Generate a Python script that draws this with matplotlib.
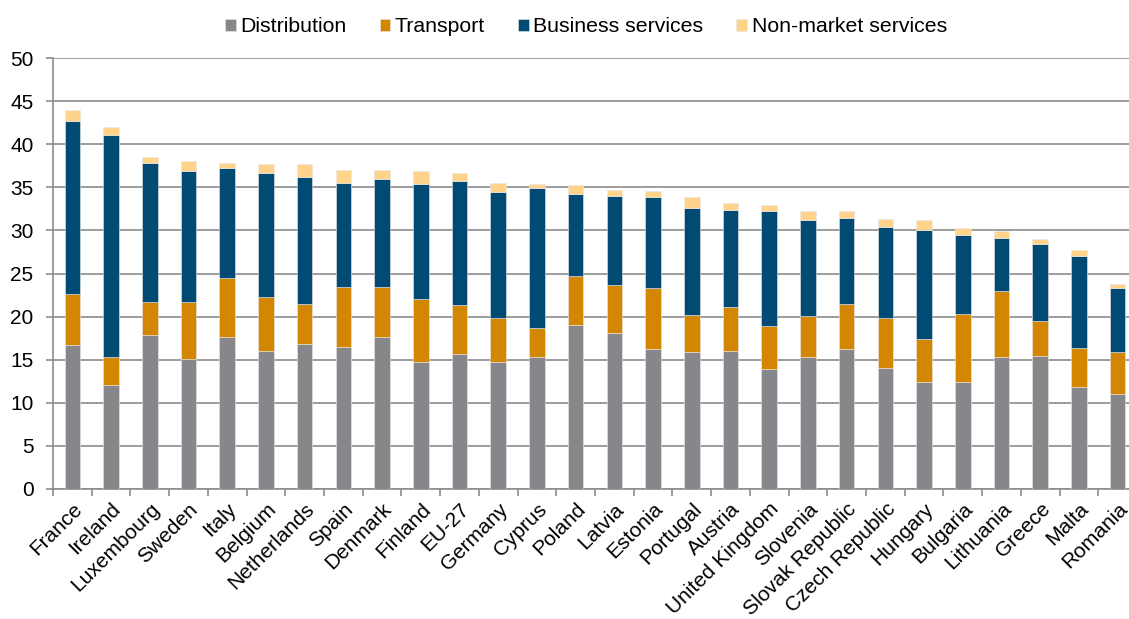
import matplotlib
matplotlib.use("Agg")
import matplotlib.pyplot as plt
import matplotlib.transforms as mtransforms
import numpy as np

countries = ["France", "Ireland", "Luxembourg", "Sweden", "Italy", "Belgium", "Netherlands",
             "Spain", "Denmark", "Finland", "EU-27", "Germany", "Cyprus", "Poland", "Latvia",
             "Estonia", "Portugal", "Austria", "United Kingdom", "Slovenia", "Slovak Republic",
             "Czech Republic", "Hungary", "Bulgaria", "Lithuania", "Greece", "Malta", "Romania"]

distribution = [16.65, 12.02, 17.85, 15.03, 17.58, 15.96, 16.77, 16.5, 17.66, 14.76, 15.61,
                14.76, 15.34, 19.01, 18.04, 16.19, 15.92, 16.0, 13.87, 15.26, 16.19, 14.06,
                12.36, 12.36, 15.26, 15.46, 11.79, 11.05]
transport = [5.92, 3.24, 3.83, 6.69, 6.88, 6.37, 4.64, 6.88, 5.76, 7.26, 5.76, 5.1, 3.32,
             5.72, 5.61, 7.11, 4.29, 5.1, 5.02, 4.79, 5.22, 5.8, 5.07, 7.89, 7.69, 3.98,
             4.52, 4.79]
business = [20.09, 25.78, 16.15, 15.14, 12.79, 14.3, 14.8, 12.17, 12.52, 13.37, 14.33, 14.57,
            16.27, 9.5, 10.31, 10.55, 12.36, 11.32, 13.34, 11.21, 10.04, 10.55, 12.63, 9.19,
            6.18, 9.0, 10.74, 7.5]
nonmarket = [1.27, 1.0, 0.69, 1.24, 0.54, 1.04, 1.46, 1.51, 1.04, 1.47, 1.01, 1.04, 0.46,
             1.01, 0.7, 0.77, 1.32, 0.77, 0.73, 1.01, 0.78, 0.89, 1.12, 0.82, 0.85, 0.54,
             0.73, 0.39]

series_names = ["Distribution", "Transport", "Business services", "Non-market services"]
colors = ["#86868B", "#D38700", "#004A74", "#FFD38A"]

plt.rcParams["font.family"] = ["Liberation Sans", "DejaVu Sans"]

W, H = 1129, 619
fig = plt.figure(figsize=(W / 100, H / 100), dpi=100)
ax = fig.add_axes([53 / W, 1 - 489 / H, (1137 - 53) / W, (489 - 58) / H])

x = np.arange(len(countries))
bottom = np.zeros(len(countries))
handles = []
for vals, name, c in zip([distribution, transport, business, nonmarket], series_names, colors):
    b = ax.bar(x, vals, width=0.4, bottom=bottom, color=c, label=name, zorder=3,
               edgecolor="#E8E8E8", linewidth=0.4)
    handles.append(b)
    bottom += np.array(vals)

ax.set_xlim(-0.5, len(countries) - 0.5)
ax.set_ylim(0, 50)
ax.set_yticks(np.arange(0, 51, 5))
ax.yaxis.grid(True, color="#8C8C8C", linewidth=1.2, zorder=0)
ax.set_axisbelow(True)

ax.set_xticks(x)
ax.set_xticklabels(countries, rotation=45, ha="right", va="top", rotation_mode="anchor",
                   fontsize=15)
offset = mtransforms.ScaledTranslation(4 / 100, 0, fig.dpi_scale_trans)
for lbl in ax.get_xticklabels():
    lbl.set_transform(lbl.get_transform() + offset)
ax.set_xticks(np.arange(-0.5, len(countries), 1), minor=True)
ax.tick_params(axis="x", which="major", length=0, pad=7.5)
ax.tick_params(axis="x", which="minor", length=5, width=1.2, color="#8C8C8C", direction="out")
ax.tick_params(axis="y", length=5, width=1.2, color="#8C8C8C", labelsize=15, pad=9)

for s in ["top", "right"]:
    ax.spines[s].set_visible(False)
for s in ["left", "bottom"]:
    ax.spines[s].set_color("#8C8C8C")
    ax.spines[s].set_linewidth(1.2)

fig.legend(handles=handles, labels=series_names, loc="center", bbox_to_anchor=(586 / W, 1 - 27 / H),
           ncol=4, frameon=False, fontsize=15.3, handlelength=0.5, handleheight=0.5,
           handletextpad=0.22, columnspacing=1.55)

fig.savefig("out.png", dpi=100)
